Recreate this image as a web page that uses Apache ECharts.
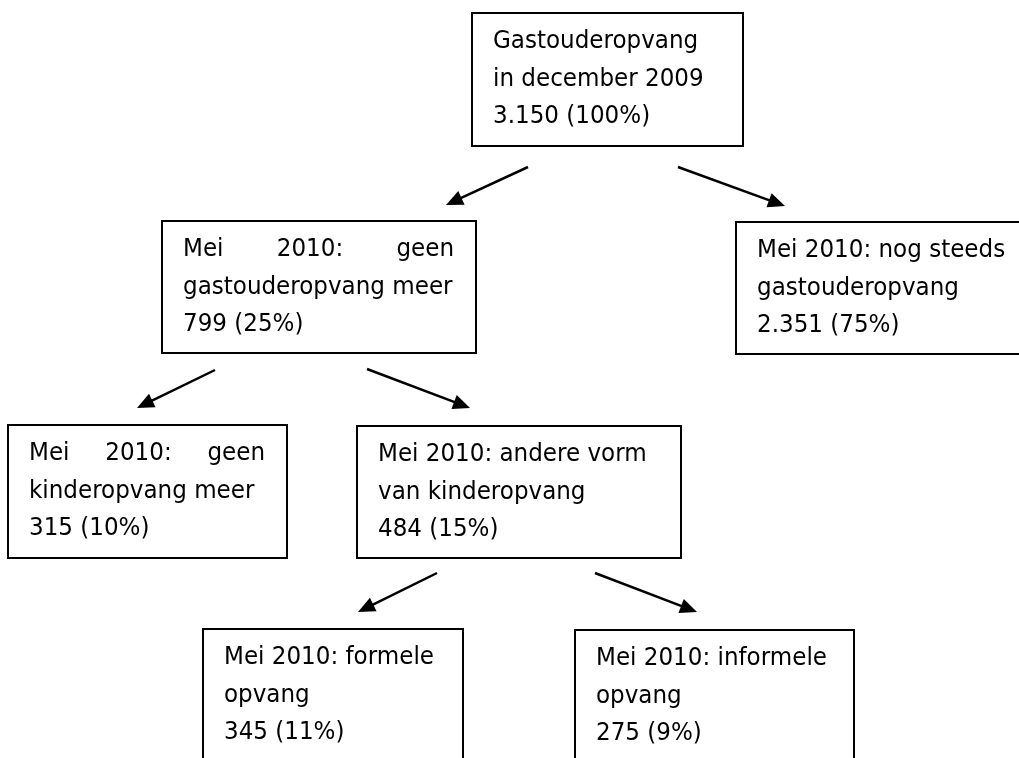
<!DOCTYPE html>
<html>
<head>
<meta charset="utf-8">
<script src="https://cdn.jsdelivr.net/npm/echarts@6/dist/echarts.min.js"></script>
<style>
html,body{margin:0;padding:0;background:#fff;}
#chart{width:1019px;height:758px;}
</style>
</head>
<body>
<div id="chart"></div>
<script>
// ---- data ----
const nodeTitles = [
  ["Gastouderopvang", "in december 2009"],
  ["Mei 2010: geen", "gastouderopvang meer"],
  ["Mei 2010: nog steeds", "gastouderopvang"],
  ["Mei 2010: geen", "kinderopvang meer"],
  ["Mei 2010: andere vorm", "van kinderopvang"],
  ["Mei 2010: formele", "opvang"],
  ["Mei 2010: informele", "opvang"]
];
const nodeCounts = ["3.150", "799", "2.351", "315", "484", "345", "275"];
const nodeShares = ["100%", "25%", "75%", "10%", "15%", "11%", "9%"];
const justifyFirstLine = [false, true, false, true, false, false, false];
const edges = [[0, 1], [0, 2], [1, 3], [1, 4], [4, 5], [4, 6]];

// ---- layout (positions only) ----
const boxLayout = [
  [472, 13, 743, 146],
  [162, 221, 476, 353],
  [736, 222, 1045, 354],
  [8, 425, 287, 558],
  [357, 426, 681, 558],
  [203, 629, 463, 800],
  [575, 630, 854, 800]
];
const arrowLayout = [
  [528, 167, 446, 205],
  [678, 167, 785, 206],
  [215, 370, 137, 408],
  [367, 369, 470, 408],
  [437, 573, 358, 612],
  [595, 573, 697, 612]
];

const FONT_SIZE = 24;
const TEXT_SCALE_X = 0.96;
const FONT_FAMILY = 'DejaVu Sans';
const PAD_L = 21, PAD_R = 22, FIRST_LINE = 29, LINE_STEP = 37.5;

const measureCtx = document.createElement('canvas').getContext('2d');
measureCtx.font = FONT_SIZE + 'px "' + FONT_FAMILY + '"';
function textWidth(s) { return measureCtx.measureText(s).width * TEXT_SCALE_X; }

function nodeLines(i) {
  return [nodeTitles[i][0], nodeTitles[i][1], nodeCounts[i] + ' (' + nodeShares[i] + ')'];
}

const boxData = boxLayout.map((b, i) => b.concat([i]));
const arrowData = edges.map((e, k) => arrowLayout[k].concat([e[0], e[1]]));

function textEl(x, y, s) {
  return {
    type: 'text',
    x: x, y: y, scaleX: TEXT_SCALE_X, scaleY: 1,
    style: {
      x: 0, y: 0, text: s,
      fill: '#000',
      fontSize: FONT_SIZE,
      fontFamily: FONT_FAMILY,
      align: 'left', verticalAlign: 'middle'
    }
  };
}

function renderBox(params, api) {
  const i = api.value(4);
  const p0 = api.coord([api.value(0), api.value(1)]);
  const p1 = api.coord([api.value(2), api.value(3)]);
  const children = [{
    type: 'rect',
    shape: { x: p0[0], y: p0[1], width: p1[0] - p0[0], height: p1[1] - p0[1] },
    style: { fill: '#fff', stroke: '#000', lineWidth: 2 }
  }];
  const lines = nodeLines(i);
  const x0 = p0[0] + PAD_L;
  const avail = p1[0] - p0[0] - PAD_L - PAD_R;
  lines.forEach((ln, k) => {
    const y = p0[1] + FIRST_LINE + k * LINE_STEP;
    if (k === 0 && justifyFirstLine[i]) {
      const words = ln.split(' ');
      const ws = words.map(textWidth);
      const total = ws.reduce((a, b) => a + b, 0);
      const gap = (avail - total) / (words.length - 1);
      let x = x0;
      words.forEach((w, j) => {
        children.push(textEl(x, y, w));
        x += ws[j] + gap;
      });
    } else {
      children.push(textEl(x0, y, ln));
    }
  });
  return { type: 'group', children: children };
}

function renderArrow(params, api) {
  const s = api.coord([api.value(0), api.value(1)]);
  const t = api.coord([api.value(2), api.value(3)]);
  const dx = t[0] - s[0], dy = t[1] - s[1];
  const len = Math.sqrt(dx * dx + dy * dy);
  const ux = dx / len, uy = dy / len;
  const headLen = 17, headHalf = 7.5;
  const bx = t[0] - ux * headLen, by = t[1] - uy * headLen;
  const px = -uy, py = ux;
  return {
    type: 'group',
    children: [
      {
        type: 'line',
        shape: { x1: s[0], y1: s[1], x2: bx + ux * 2, y2: by + uy * 2 },
        style: { stroke: '#000', lineWidth: 2.5 }
      },
      {
        type: 'polygon',
        shape: { points: [[t[0], t[1]], [bx + px * headHalf, by + py * headHalf], [bx - px * headHalf, by - py * headHalf]] },
        style: { fill: '#000' }
      }
    ]
  };
}

const chart = echarts.init(document.getElementById('chart'), null, { renderer: 'canvas' });
chart.setOption({
  animation: false,
  backgroundColor: '#fff',
  grid: { left: 0, right: 0, top: 0, bottom: 0 },
  xAxis: { type: 'value', min: 0, max: 1019, show: false },
  yAxis: { type: 'value', min: 0, max: 758, inverse: true, show: false },
  series: [
    {
      type: 'custom', name: 'boxes', clip: false,
      renderItem: renderBox, data: boxData,
      encode: { x: [0, 2], y: [1, 3] }
    },
    {
      type: 'custom', name: 'arrows', clip: false,
      renderItem: renderArrow, data: arrowData,
      encode: { x: [0, 2], y: [1, 3] }
    }
  ]
});
</script>
</body>
</html>
